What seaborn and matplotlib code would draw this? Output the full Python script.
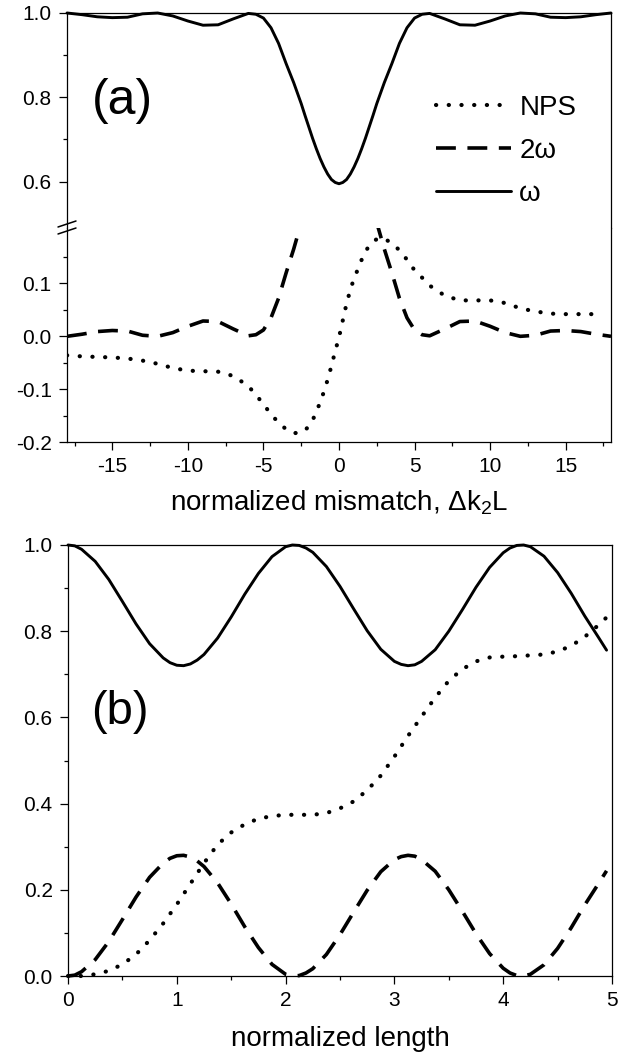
import numpy as np
import matplotlib
matplotlib.use("Agg")
import matplotlib.pyplot as plt
from matplotlib.lines import Line2D
from matplotlib.ticker import FixedLocator, FixedFormatter
import seaborn as sns

# ---- panel (a): scan over normalized mismatch
mismatch = [-18, -17, -16, -15, -14, -13, -12, -11, -10, -9, -8, -7,
            -6, -5.5, -5, -4.5, -4, -3.5, -3, -2.75, -2.5, -2.25, -2, -1.75, -1.5, -1.25,
            -1, -0.75, -0.5, -0.25, 0, 0.25, 0.5, 0.75, 1, 1.25, 1.5, 1.75, 2, 2.25, 2.5, 2.75,
            3, 3.5, 4, 4.5, 5, 5.5, 6,
            7, 8, 9, 10, 11, 12, 13, 14, 15, 16, 17, 18]
omega_a = [1.0, 0.996, 0.991, 0.989, 0.990, 0.998, 1.0, 0.993, 0.981, 0.971, 0.972, 0.986,
           0.999, 0.997, 0.988, 0.965, 0.928, 0.880, 0.835, 0.810, 0.785, 0.757, 0.730, 0.703,
           0.678, 0.655, 0.635, 0.618, 0.605, 0.598, 0.595, 0.598, 0.605, 0.618, 0.635, 0.655,
           0.678, 0.703, 0.730, 0.757, 0.785, 0.810,
           0.835, 0.880, 0.928, 0.965, 0.988, 0.997, 0.999,
           0.986, 0.972, 0.971, 0.981, 0.993, 1.0, 0.998, 0.990, 0.989, 0.991, 0.996, 1.0]
shg_a = [0.0, 0.004, 0.009, 0.011, 0.010, 0.002, 0.0, 0.007, 0.019, 0.029, 0.028, 0.014,
         0.001, 0.003, 0.012, 0.035, 0.072, 0.120, 0.165, 0.190, 0.215, 0.243, 0.270, 0.297,
         0.322, 0.345, 0.365, 0.382, 0.395, 0.402, 0.405, 0.402, 0.395, 0.382, 0.365, 0.345,
         0.322, 0.297, 0.270, 0.243, 0.215, 0.190,
         0.165, 0.120, 0.072, 0.035, 0.012, 0.003, 0.001,
         0.014, 0.028, 0.029, 0.019, 0.007, 0.0, 0.002, 0.010, 0.011, 0.009, 0.004, 0.0]
nps_a = [-0.036, -0.038, -0.039, -0.040, -0.042, -0.046, -0.052, -0.060, -0.065, -0.066, -0.067, -0.075,
         -0.094, -0.111, -0.128, -0.148, -0.163, -0.176, -0.183, -0.183, -0.182, -0.178, -0.170, -0.159,
         -0.143, -0.125, -0.105, -0.082, -0.056, -0.028, -0.002, 0.030, 0.062, 0.088, 0.110, 0.127,
         0.145, 0.160, 0.172, 0.179, 0.184, 0.186,
         0.185, 0.176, 0.163, 0.145, 0.125, 0.111, 0.096,
         0.077, 0.068, 0.068, 0.068, 0.063, 0.053, 0.047, 0.043, 0.042, 0.042, 0.042, np.nan]

# ---- panel (b): evolution along normalized length
length_w = [0, 0.0625, 0.125, 0.25, 0.375, 0.5, 0.625, 0.75, 0.875, 0.9375, 1.0, 1.0625, 1.125,
            1.1875, 1.25, 1.375, 1.5, 1.625, 1.75, 1.875, 2.0, 2.0625, 2.125, 2.1875, 2.25, 2.375,
            2.5, 2.625, 2.75, 2.875, 3.0, 3.0625, 3.125, 3.1875, 3.25, 3.375, 3.5, 3.625, 3.75,
            3.875, 4.0, 4.0625, 4.125, 4.1875, 4.25, 4.375, 4.5, 4.625, 4.75, 4.875, 4.95]
omega_b = [1.0, 0.998, 0.990, 0.962, 0.920, 0.869, 0.817, 0.771, 0.738, 0.727, 0.721, 0.720, 0.724,
           0.733, 0.746, 0.784, 0.833, 0.886, 0.934, 0.973, 0.996, 1.0, 0.999, 0.993, 0.983, 0.950,
           0.904, 0.852, 0.801, 0.758, 0.730, 0.723, 0.720, 0.722, 0.730, 0.757, 0.800, 0.850, 0.902,
           0.948, 0.982, 0.993, 0.999, 1.0, 0.996, 0.974, 0.936, 0.888, 0.835, 0.786, 0.756]
shg_b = [0.0, 0.002, 0.010, 0.038, 0.080, 0.131, 0.183, 0.229, 0.262, 0.273, 0.279, 0.280, 0.276,
         0.267, 0.254, 0.216, 0.167, 0.114, 0.066, 0.027, 0.004, 0.0, 0.001, 0.007, 0.017, 0.050,
         0.096, 0.148, 0.199, 0.242, 0.270, 0.277, 0.280, 0.278, 0.270, 0.243, 0.200, 0.150, 0.098,
         0.052, 0.018, 0.007, 0.001, 0.0, 0.004, 0.026, 0.064, 0.112, 0.165, 0.214, 0.244]
length_nps = [0, 0.125, 0.25, 0.375, 0.5, 0.625, 0.75, 0.875, 1.0, 1.125, 1.25, 1.375, 1.5, 1.625,
              1.75, 1.875, 2.0, 2.125, 2.25, 2.375, 2.5, 2.625, 2.75, 2.875, 3.0, 3.125, 3.25, 3.375,
              3.5, 3.625, 3.75, 3.875, 4.0, 4.125, 4.25, 4.375, 4.5, 4.625, 4.75, 4.875, 4.95]
nps_b = [0.0, 0.0, 0.004, 0.012, 0.027, 0.050, 0.083, 0.122, 0.166, 0.214, 0.262, 0.305, 0.333, 0.352,
         0.365, 0.371, 0.374, 0.374, 0.374, 0.378, 0.389, 0.405, 0.431, 0.465, 0.509, 0.557, 0.602, 0.646,
         0.685, 0.712, 0.730, 0.739, 0.741, 0.742, 0.744, 0.746, 0.753, 0.766, 0.787, 0.814, 0.832]

legend_labels = ["NPS", "2ω", "ω"]

# tick positions / labels
a_xticks = [-15, -10, -5, 0, 5, 10, 15]
a_xlabels = ["-15", "-10", "-5", "0", "5", "10", "15"]
a_up_yticks = [0.6, 0.8, 1.0]
a_up_ylabels = ["0.6", "0.8", "1.0"]
a_lo_yticks = [-0.2, -0.1, 0.0, 0.1]
a_lo_ylabels = ["-0.2", "-0.1", "0.0", "0.1"]
b_xticks = [0, 1, 2, 3, 4, 5]
b_xlabels = ["0", "1", "2", "3", "4", "5"]
b_yticks = [0.0, 0.2, 0.4, 0.6, 0.8, 1.0]
b_ylabels = ["0.0", "0.2", "0.4", "0.6", "0.8", "1.0"]

sns.set_style("ticks")
plt.rcParams["font.family"] = ["Liberation Sans", "DejaVu Sans"]
plt.rcParams["mathtext.fontset"] = "custom"
plt.rcParams["mathtext.rm"] = "Liberation Sans"
plt.rcParams["mathtext.it"] = "Liberation Sans:italic"
plt.rcParams["axes.unicode_minus"] = False
plt.rcParams["axes.edgecolor"] = "black"
plt.rcParams["axes.labelcolor"] = "black"
plt.rcParams["text.color"] = "black"
plt.rcParams["axes.linewidth"] = 0.9
plt.rcParams["xtick.color"] = "black"
plt.rcParams["ytick.color"] = "black"
plt.rcParams["xtick.labelcolor"] = "black"
plt.rcParams["ytick.labelcolor"] = "black"

SOLID = dict(color="black", lw=2.1, linestyle="-", solid_joinstyle="round")
DASH = dict(color="black", lw=2.6, linestyle=(0, (5.5, 3.2)))
DOT = dict(color="black", lw=3.0, linestyle=(0, (0.05, 3.0)), dash_capstyle="round")

fig = plt.figure(figsize=(6.37, 10.54), dpi=100)
W, H = 637.0, 1054.0


def box(l, t, r, b):
    return [l / W, 1 - b / H, (r - l) / W, (b - t) / H]


ax_up = fig.add_axes(box(67, 13, 611, 228))
ax_lo = fig.add_axes(box(67, 228, 611, 442))
ax_b = fig.add_axes(box(68, 545, 612, 976))

# panel (a) upper part
sns.lineplot(x=mismatch, y=omega_a, ax=ax_up, errorbar=None, legend=False, clip_on=False, **SOLID)
ax_up.set_xlim(-18, 18)
ax_up.set_ylim(0.49, 1.0)
ax_up.spines["bottom"].set_visible(False)
ax_up.tick_params(axis="x", bottom=False, labelbottom=False)
ax_up.yaxis.set_major_locator(FixedLocator(a_up_yticks))
ax_up.yaxis.set_major_formatter(FixedFormatter(a_up_ylabels))
ax_up.yaxis.set_minor_locator(FixedLocator([0.7, 0.9]))

# panel (a) lower part
sns.lineplot(x=mismatch, y=shg_a, ax=ax_lo, errorbar=None, legend=False, **DASH)
sns.lineplot(x=mismatch, y=nps_a, ax=ax_lo, errorbar=None, legend=False, **DOT)
ax_lo.set_xlim(-18, 18)
ax_lo.set_ylim(-0.2, 0.205)
ax_lo.spines["top"].set_visible(False)
ax_lo.xaxis.set_major_locator(FixedLocator(a_xticks))
ax_lo.xaxis.set_major_formatter(FixedFormatter(a_xlabels))
ax_lo.xaxis.set_minor_locator(FixedLocator([-17.5, -12.5, -7.5, -2.5, 2.5, 7.5, 12.5, 17.5]))
ax_lo.yaxis.set_major_locator(FixedLocator(a_lo_yticks))
ax_lo.yaxis.set_major_formatter(FixedFormatter(a_lo_ylabels))
ax_lo.yaxis.set_minor_locator(FixedLocator([-0.15, -0.05, 0.05, 0.15]))
ax_lo.set_xlabel(r"normalized mismatch, $\mathregular{\Delta k_2L}$", fontsize=20, labelpad=9)

# panel (b)
sns.lineplot(x=length_w, y=omega_b, ax=ax_b, errorbar=None, legend=False, clip_on=False, **SOLID)
sns.lineplot(x=length_w, y=shg_b, ax=ax_b, errorbar=None, legend=False, clip_on=False, **DASH)
sns.lineplot(x=length_nps, y=nps_b, ax=ax_b, errorbar=None, legend=False, clip_on=False, **DOT)
ax_b.set_xlim(0, 5)
ax_b.set_ylim(0, 1.0)
ax_b.xaxis.set_major_locator(FixedLocator(b_xticks))
ax_b.xaxis.set_major_formatter(FixedFormatter(b_xlabels))
ax_b.xaxis.set_minor_locator(FixedLocator([0.5, 1.5, 2.5, 3.5, 4.5]))
ax_b.yaxis.set_major_locator(FixedLocator(b_yticks))
ax_b.yaxis.set_major_formatter(FixedFormatter(b_ylabels))
ax_b.yaxis.set_minor_locator(FixedLocator([0.1, 0.3, 0.5, 0.7, 0.9]))
ax_b.set_xlabel("normalized length", fontsize=20, labelpad=11)

for ax in (ax_up, ax_lo, ax_b):
    ax.set_facecolor("white")
    ax.tick_params(which="major", direction="out", length=6, width=0.9, labelsize=15, pad=5)
    ax.tick_params(which="minor", direction="out", length=3, width=0.9)
    ax.tick_params(top=False, right=False, which="both")

# axis break marks on the left spine
for yy in (228, 235):
    fig.add_artist(Line2D([58 / W, 76 / W], [1 - (yy - 1) / H, 1 - (yy - 7) / H],
                          color="black", lw=1.1, transform=fig.transFigure))

# legend
handles = [ax_lo.lines[1], ax_lo.lines[0], ax_up.lines[0]]
fig.legend(handles, legend_labels, loc="center left",
           bbox_to_anchor=(436 / W, 1 - 151 / H), bbox_transform=fig.transFigure,
           frameon=False, fontsize=20, handlelength=2.7, handletextpad=0.3,
           labelspacing=0.62, borderpad=0, borderaxespad=0)

fig.text(92 / W, 1 - 101 / H, "(a)", fontsize=36, ha="left", va="center", color="black")
fig.text(91 / W, 1 - 712 / H, "(b)", fontsize=34, ha="left", va="center", color="black")

fig.savefig("out.png", dpi=100, facecolor="white")
